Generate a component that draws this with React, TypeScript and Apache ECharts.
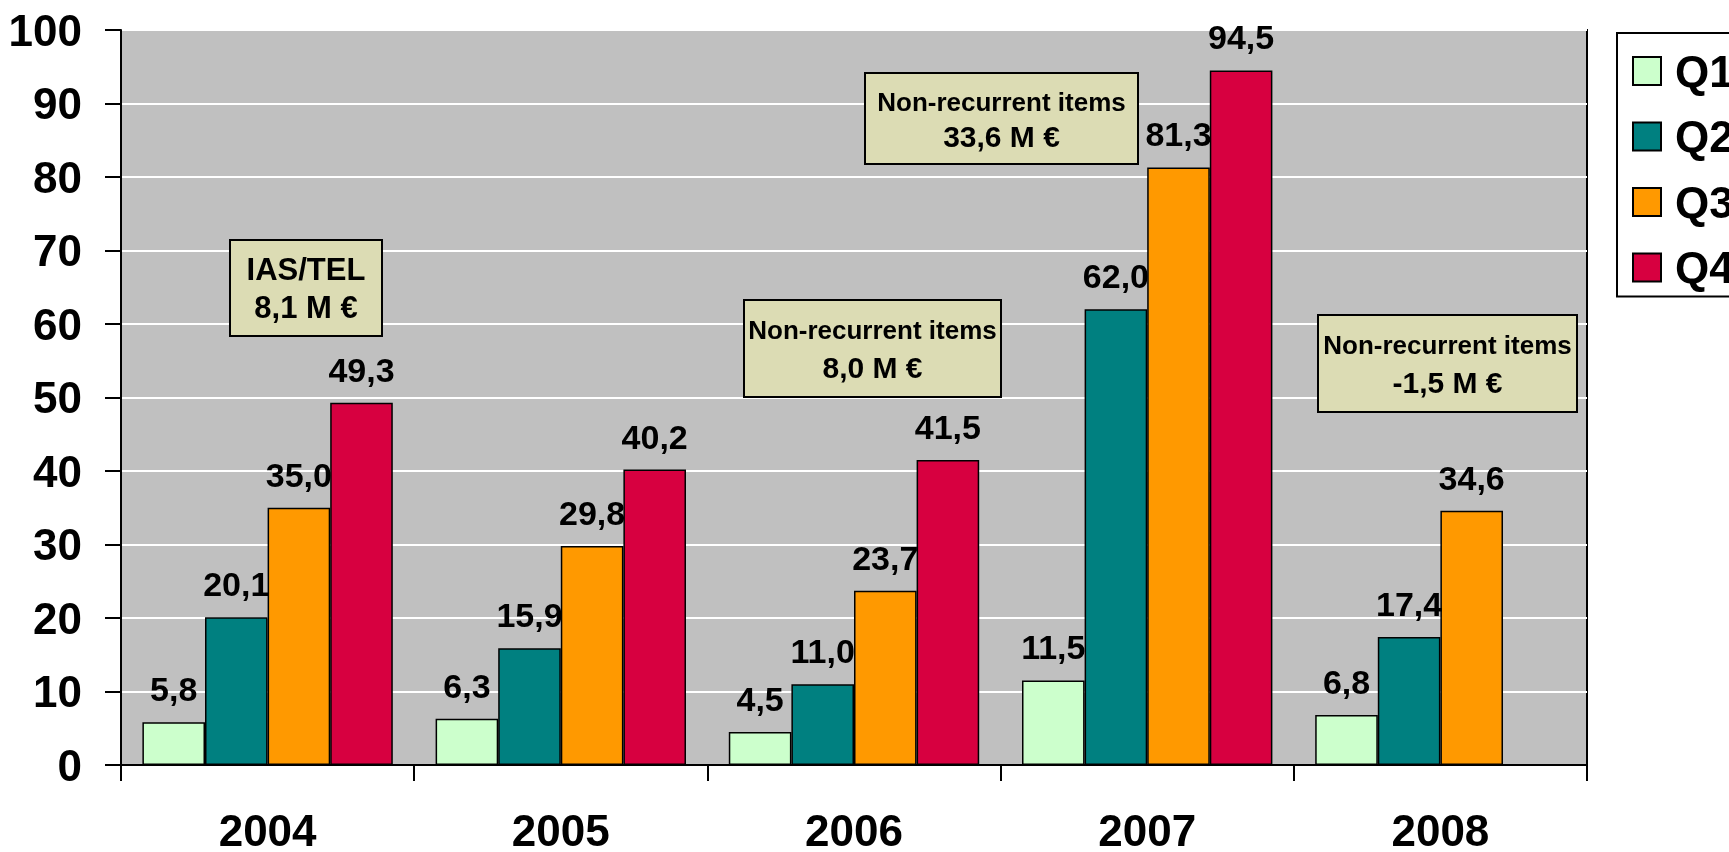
import React, { useEffect, useRef } from "react";
import * as echarts from "echarts";

const categories = ["2004", "2005", "2006", "2007", "2008"];
const seriesNames = ["Q1", "Q2", "Q3", "Q4"];
const q1 = [5.8, 6.3, 4.5, 11.5, 6.8];
const q2 = [20.1, 15.9, 11.0, 62.0, 17.4];
const q3 = [35.0, 29.8, 23.7, 81.3, 34.6];
const q4 = [49.3, 40.2, 41.5, 94.5, null];
const seriesColors = ["#CCFFCC", "#008080", "#FF9900", "#D70040"];
const yTicks = { min: 0, max: 100, interval: 10 };

const notes = [
  { l1: "IAS/TEL", l2: "8,1 M €", x: 230, y: 240, w: 152, h: 96, y1: 269, y2: 307, f1: 31, f2: 31 },
  { l1: "Non-recurrent items", l2: "8,0 M €", x: 744, y: 300, w: 257, h: 97, y1: 330, y2: 367, f1: 26, f2: 30 },
  { l1: "Non-recurrent items", l2: "33,6 M €", x: 865, y: 73, w: 273, h: 91, y1: 102, y2: 136, f1: 26, f2: 30 },
  { l1: "Non-recurrent items", l2: "-1,5 M €", x: 1318, y: 315, w: 259, h: 97, y1: 345, y2: 382, f1: 26, f2: 30 },
];

const FONT = "'Liberation Sans', Arial, sans-serif";

export default function App() {
  const ref = useRef<HTMLDivElement>(null);
  useEffect(() => {
    if (!ref.current) return;
    const chart = echarts.init(ref.current, null, { renderer: "svg" });
    const values = [q1, q2, q3, q4];
    const graphics: any[] = [];
    notes.forEach((n) => {
      graphics.push({
        type: "rect",
        shape: { x: n.x, y: n.y, width: n.w, height: n.h },
        style: { fill: "#DCDCB4", stroke: "#000", lineWidth: 2 },
        z: 100,
      });
      graphics.push({
        type: "text",
        x: n.x + n.w / 2,
        y: n.y1,
        style: { text: n.l1, font: `bold ${n.f1}px ${FONT}`, fill: "#000", align: "center", verticalAlign: "middle" },
        z: 101,
      });
      graphics.push({
        type: "text",
        x: n.x + n.w / 2,
        y: n.y2,
        style: { text: n.l2, font: `bold ${n.f2}px ${FONT}`, fill: "#000", align: "center", verticalAlign: "middle" },
        z: 101,
      });
    });
    chart.setOption({
      animation: false,
      textStyle: { fontFamily: FONT },
      grid: {
        left: 121,
        top: 30,
        right: 142,
        bottom: 86,
        show: true,
        backgroundColor: "#C0C0C0",
        borderColor: "#000",
        borderWidth: 2,
      },
      legend: {
        data: seriesNames,
        orient: "vertical",
        left: 1617,
        top: 33,
        icon: "rect",
        itemWidth: 28,
        itemHeight: 28,
        itemGap: 21.5,
        backgroundColor: "#fff",
        borderColor: "#000",
        borderWidth: 2,
        borderRadius: 0,
        padding: [16, 60, 7, 15],
        textStyle: { fontSize: 44, fontWeight: "bold", color: "#000", lineHeight: 44, padding: [0, 0, 0, 9], fontFamily: FONT },
      },
      xAxis: {
        type: "category",
        data: categories,
        axisLine: { lineStyle: { color: "#000", width: 2 } },
        axisTick: { show: true, length: 16, lineStyle: { color: "#000", width: 2 } },
        axisLabel: { fontSize: 44, fontWeight: "bold", color: "#000", margin: 43, lineHeight: 44, fontFamily: FONT },
        splitLine: { show: false },
      },
      yAxis: {
        type: "value",
        min: yTicks.min,
        max: yTicks.max,
        interval: yTicks.interval,
        axisLine: { show: true, lineStyle: { color: "#000", width: 2 } },
        axisTick: { show: true, length: 16, lineStyle: { color: "#000", width: 2 } },
        axisLabel: { fontSize: 44, fontWeight: "bold", color: "#000", margin: 39, fontFamily: FONT },
        splitLine: { show: true, lineStyle: { color: "#fff", width: 2 } },
      },
      series: seriesNames.map((name, i) => ({
        name,
        type: "bar",
        data: values[i],
        barGap: "0%",
        barCategoryGap: "14.6%",
        itemStyle: { color: seriesColors[i], borderColor: "#000", borderWidth: 1.5 },
        label: {
          show: true,
          position: "top",
          distance: 16,
          fontSize: 34,
          fontWeight: "bold",
          color: "#000",
          lineHeight: 34,
          fontFamily: FONT,
          formatter: (p: any) => (p.value == null ? "" : Number(p.value).toFixed(1).replace(".", ",")),
        },
      })),
      graphic: graphics,
    });
    return () => chart.dispose();
  }, []);
  return <div ref={ref} style={{ position: "fixed", left: 0, top: 0, width: 1729, height: 852 }} />;
}
